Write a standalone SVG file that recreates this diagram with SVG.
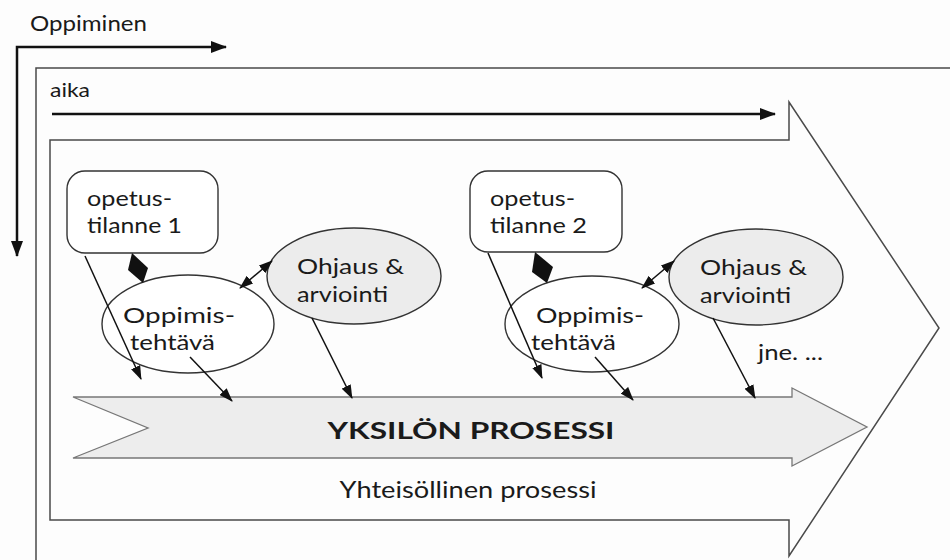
<svg xmlns="http://www.w3.org/2000/svg" width="950" height="560" viewBox="0 0 950 560">
<style>
text{font-family:Lato,"Liberation Sans",Arial,sans-serif;fill:#1a1a1a}
.frame{fill:none;stroke:#4a4a4a;stroke-width:1.5}
.node{fill:#fff;stroke:#333;stroke-width:1.4}
.grey{fill:#ececec;stroke:#333;stroke-width:1.4}
.arr{fill:none;stroke:#111;stroke-width:1.5}
.thick{fill:none;stroke:#111;stroke-width:2.5}
.t22{font-size:22px}
</style>
<defs>
<marker id="ah" viewBox="0 0 14 10" refX="13" refY="5" markerWidth="14" markerHeight="10" markerUnits="userSpaceOnUse" orient="auto-start-reverse"><path d="M0,0 L14,5 L0,10 z" fill="#111"/></marker>
<marker id="ahb" viewBox="0 0 16 12" refX="15" refY="6" markerWidth="16" markerHeight="12" markerUnits="userSpaceOnUse" orient="auto-start-reverse"><path d="M0,0 L16,6 L0,12 z" fill="#111"/></marker>
</defs>
<rect width="950" height="560" fill="#fdfdfd"/>

<g id="oppiminen">
<path class="thick" d="M226,47 L17,47 L17,256" marker-start="url(#ahb)" marker-end="url(#ahb)"/>
<text x="30" y="31" font-size="22" textLength="117" lengthAdjust="spacingAndGlyphs">Oppiminen</text>
</g>

<g id="outer-frame">
<path class="frame" d="M36,560 L36,68 L950,68"/>
</g>

<g id="aika">
<text x="50" y="97" font-size="20" textLength="40" lengthAdjust="spacingAndGlyphs">aika</text>
<line class="thick" x1="52" y1="114" x2="775" y2="114" marker-end="url(#ahb)"/>
</g>

<g id="yhteisollinen">
<polygon class="frame" points="50,140 789,140 789,102 939,328 789,556 789,520 50,520"/>
<text x="468" y="498" font-size="24" text-anchor="middle" textLength="257" lengthAdjust="spacingAndGlyphs">Yhteisöllinen prosessi</text>
</g>

<g id="yksilon">
<polygon points="73,397 792,397 792,388 867,427 792,466 792,458 73,458 148,428" fill="#ededed" stroke="#777" stroke-width="1.3"/>
<text x="471" y="439" font-size="23" font-weight="bold" text-anchor="middle" textLength="287" lengthAdjust="spacingAndGlyphs">YKSILÖN PROSESSI</text>
</g>

<g id="opetus1">
<rect class="node" x="67" y="171" width="151" height="82" rx="18"/>
<text x="87" y="206" class="t22" textLength="85" lengthAdjust="spacingAndGlyphs">opetus-</text>
<text x="87" y="233" class="t22" textLength="95" lengthAdjust="spacingAndGlyphs">tilanne 1</text>
</g>

<g id="opetus2">
<rect class="node" x="470" y="171" width="152" height="81" rx="18"/>
<text x="490" y="206" class="t22" textLength="85" lengthAdjust="spacingAndGlyphs">opetus-</text>
<text x="490" y="233" class="t22" textLength="97" lengthAdjust="spacingAndGlyphs">tilanne 2</text>
</g>

<g id="oppimis1">
<ellipse class="node" cx="188" cy="324" rx="86" ry="49"/>
<text x="123" y="323" class="t22" textLength="112" lengthAdjust="spacingAndGlyphs">Oppimis-</text>
<text x="130" y="350" class="t22" textLength="85" lengthAdjust="spacingAndGlyphs">tehtävä</text>
</g>

<g id="oppimis2">
<ellipse class="node" cx="592" cy="324" rx="87" ry="48"/>
<text x="536" y="323" class="t22" textLength="108" lengthAdjust="spacingAndGlyphs">Oppimis-</text>
<text x="531" y="350" class="t22" textLength="85" lengthAdjust="spacingAndGlyphs">tehtävä</text>
</g>

<g id="ohjaus1">
<ellipse class="grey" cx="354" cy="276" rx="87" ry="48"/>
<text x="297" y="274" class="t22" textLength="107" lengthAdjust="spacingAndGlyphs">Ohjaus &amp;</text>
<text x="297" y="302" class="t22" textLength="91" lengthAdjust="spacingAndGlyphs">arviointi</text>
</g>

<g id="ohjaus2">
<ellipse class="grey" cx="756" cy="277" rx="87" ry="48"/>
<text x="700" y="275" class="t22" textLength="107" lengthAdjust="spacingAndGlyphs">Ohjaus &amp;</text>
<text x="700" y="303" class="t22" textLength="91" lengthAdjust="spacingAndGlyphs">arviointi</text>
</g>

<g id="jne">
<text x="758" y="360" font-size="21" textLength="65" lengthAdjust="spacingAndGlyphs">jne. ...</text>
</g>

<g id="connectors">
<polygon points="132,253 148,268 143,283 128,270" fill="#111"/>
<polygon points="535,252 553,267 547,283 532,272" fill="#111"/>
<line class="arr" x1="240" y1="288" x2="272" y2="261" marker-start="url(#ah)" marker-end="url(#ah)"/>
<line class="arr" x1="642" y1="288" x2="674" y2="261" marker-start="url(#ah)" marker-end="url(#ah)"/>
<line class="arr" x1="85" y1="256" x2="141" y2="379" marker-end="url(#ah)"/>
<line class="arr" x1="190" y1="357" x2="232" y2="401" marker-end="url(#ah)"/>
<line class="arr" x1="312" y1="318" x2="352" y2="398" marker-end="url(#ah)"/>
<line class="arr" x1="488" y1="253" x2="542" y2="378" marker-end="url(#ah)"/>
<line class="arr" x1="595" y1="357" x2="633" y2="400" marker-end="url(#ah)"/>
<line class="arr" x1="713" y1="318" x2="755" y2="398" marker-end="url(#ah)"/>
</g>
</svg>
